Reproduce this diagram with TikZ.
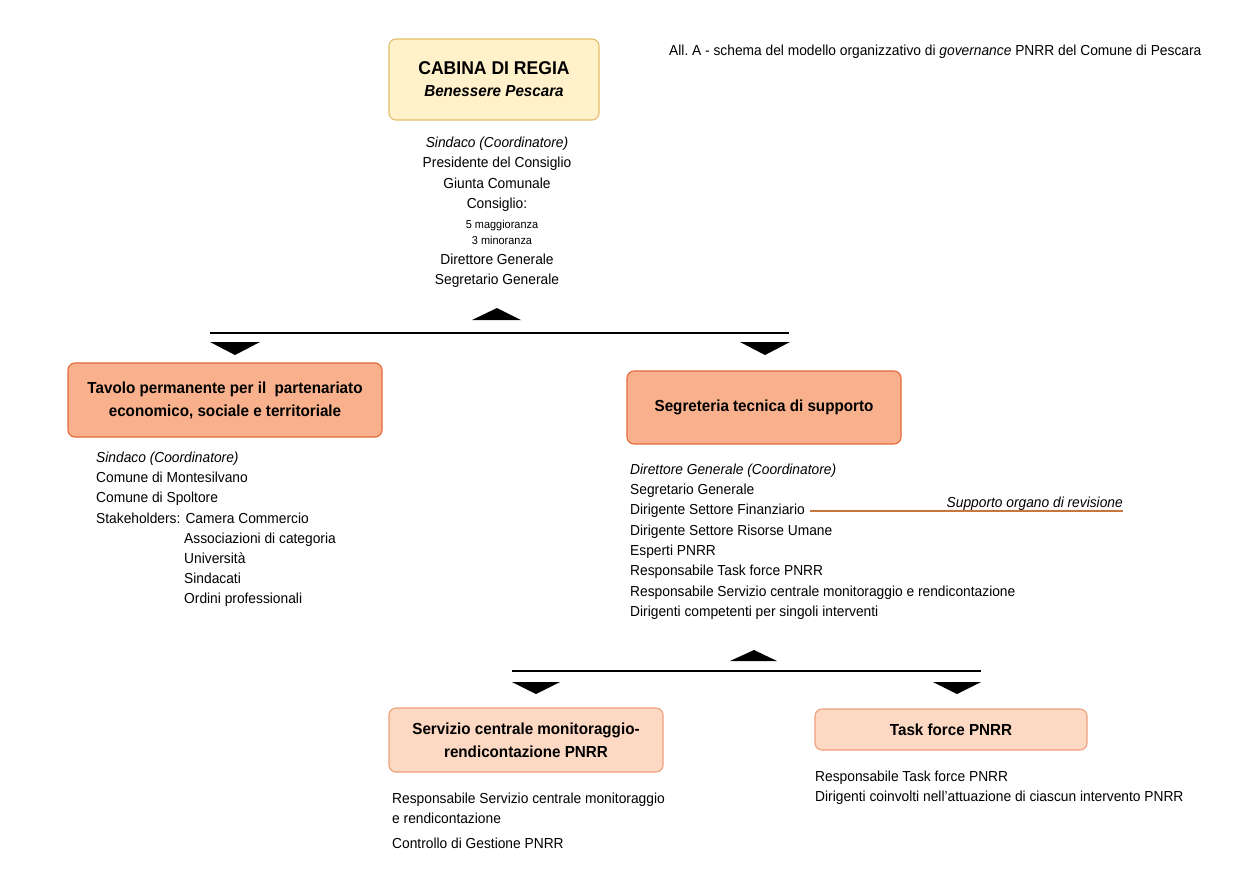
\documentclass[tikz,border=0pt]{standalone}
\usepackage{fontspec}
\setmainfont{Liberation Sans}[FakeStretch=0.95]
\definecolor{yfill}{HTML}{FFF1C9}
\definecolor{ydraw}{HTML}{E3BE6A}
\definecolor{sfill}{HTML}{F8B18C}
\definecolor{sdraw}{HTML}{E2693A}
\definecolor{lfill}{HTML}{FDD8C2}
\definecolor{ldraw}{HTML}{EE9E7C}
\definecolor{orcol}{HTML}{C8753F}
\begin{document}
\begin{tikzpicture}[x=1pt,y=-1pt,
  box/.style={draw, rounded corners=7pt, line width=1.1pt, inner sep=0pt, align=center,
    font=\fontsize{16}{23}\selectfont\bfseries},
  ybox/.style={box, fill=yfill, draw=ydraw},
  sbox/.style={box, fill=sfill, draw=sdraw},
  lbox/.style={box, fill=lfill, draw=ldraw},
  list/.style={anchor=north west, align=left, inner sep=0pt, font=\fontsize{14.5}{20.3}\selectfont},
  clist/.style={anchor=north, align=center, inner sep=0pt, font=\fontsize{14.5}{20.5}\selectfont},
  tri/.style={fill=black},
  hline/.style={line width=1.2pt},
  revline/.style={draw=orcol, line width=1.2pt}]
\useasboundingbox (0,0) rectangle (1246,868);

% header
\node[anchor=base west, inner sep=0pt, font=\fontsize{14.5}{18}\selectfont] (head) at (669,55)
  {All.\ A - schema del modello organizzativo di \textit{governance} PNRR del Comune di Pescara};

% Cabina di regia
\node[ybox, minimum width=210, minimum height=81] (cab) at (494,79.5)
  {{\fontsize{18.5}{22}\selectfont CABINA DI REGIA}\\[-1pt]{\itshape Benessere Pescara}};
\node[clist] (cab1) at (497,136.5)
  {\textit{Sindaco (Coordinatore)}\\Presidente del Consiglio\\Giunta Comunale\\Consiglio:};
\node[clist, font=\fontsize{11.5}{16}\selectfont] (cab2) at (502,219.5)
  {5 maggioranza\\3 minoranza};
\node[clist] (cab3) at (497,253.5)
  {Direttore Generale\\Segretario Generale};

% first splitter
\coordinate (s1l) at (210,333);
\coordinate (s1r) at (789,333);
\draw[hline] (s1l) -- (s1r);
\fill[tri] (472,320) -- (497,308) -- (521,320) -- cycle;
\fill[tri] (210,342) -- (260,342) -- (235,355) -- cycle;
\fill[tri] (740,342) -- (790,342) -- (765,355) -- cycle;

% Tavolo
\node[sbox, minimum width=314, minimum height=74] (tav) at (225,400)
  {Tavolo permanente per il\ \ partenariato\\economico, sociale e territoriale};
\node[list] (tav1) at (96,451.5)
  {\textit{Sindaco (Coordinatore)}\\Comune di Montesilvano\\Comune di Spoltore\\Stakeholders: Camera Commercio};
\node[list] (tav2) at (184,532.3)
  {Associazioni di categoria\\Università\\Sindacati\\Ordini professionali};

% Segreteria
\node[sbox, minimum width=274, minimum height=73] (seg) at (764,407.5)
  {Segreteria tecnica di supporto};
\node[list] (seg1) at (630,463.5)
  {\textit{Direttore Generale (Coordinatore)}\\Segretario Generale\\Dirigente Settore Finanziario\\Dirigente Settore Risorse Umane\\Esperti PNRR\\Responsabile Task force PNRR\\Responsabile Servizio centrale monitoraggio e rendicontazione\\Dirigenti competenti per singoli interventi};
\coordinate (ol) at (810,511);
\coordinate (or) at (1123,511);
\draw[revline] (ol) -- (or);
\node[anchor=base east, inner sep=0pt, font=\fontsize{14.5}{18}\selectfont\itshape] (rev) at (1123,507)
  {Supporto organo di revisione};

% second splitter
\coordinate (s2l) at (512,671);
\coordinate (s2r) at (981,671);
\draw[hline] (s2l) -- (s2r);
\fill[tri] (730,661) -- (754,650) -- (777,661) -- cycle;
\fill[tri] (512,682) -- (560,682) -- (536,694) -- cycle;
\fill[tri] (933,682) -- (981,682) -- (957,694) -- cycle;

% Servizio centrale
\node[lbox, minimum width=274, minimum height=64] (ser) at (526,740)
  {Servizio centrale monitoraggio-\\rendicontazione PNRR};
\node[list] (ser1) at (392,792.5)
  {Responsabile Servizio centrale monitoraggio\\e rendicontazione};
\node[list] (ser2) at (392,837.5)
  {Controllo di Gestione PNRR};

% Task force
\node[lbox, minimum width=272, minimum height=41] (tf) at (951,729.5)
  {Task force PNRR};
\node[list] (tf1) at (815,770.5)
  {Responsabile Task force PNRR\\Dirigenti coinvolti nell'attuazione di ciascun intervento PNRR};
\end{tikzpicture}
\end{document}
